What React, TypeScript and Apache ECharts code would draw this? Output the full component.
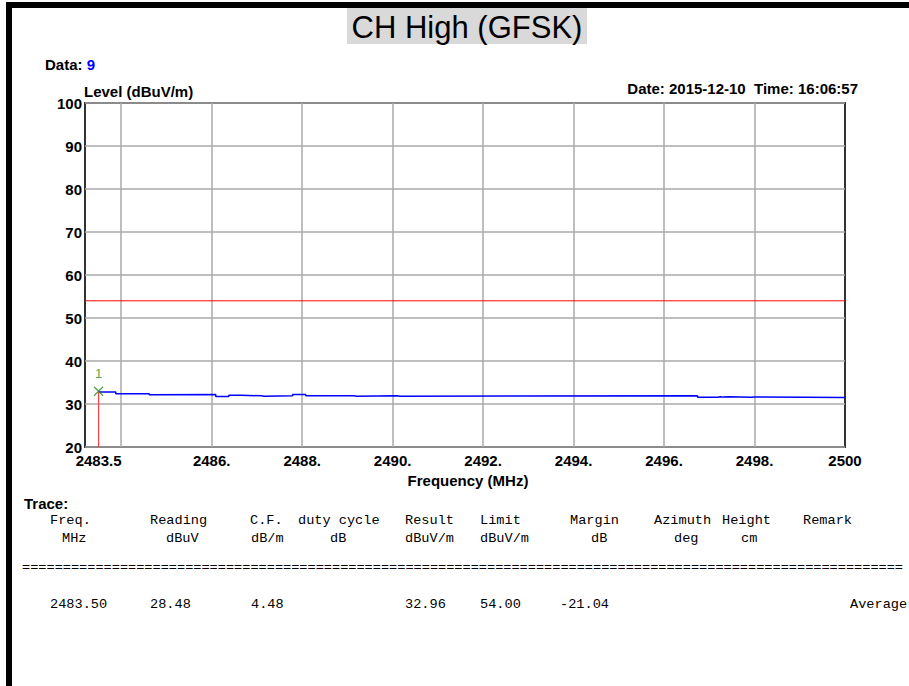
import React, { useEffect, useRef } from 'react';
import * as echarts from 'echarts';

// ---- data ----
const xMin = 2483.2;
const xMax = 2500;
const xLabelValues = [2483.5, 2486, 2488, 2490, 2492, 2494, 2496, 2498, 2500];
const xLabelTexts = ['2483.5', '2486.', '2488.', '2490.', '2492.', '2494.', '2496.', '2498.', '2500'];
const xGridValues = [2484, 2486, 2488, 2490, 2492, 2494, 2496, 2498];
const yMin = 20;
const yMax = 100;
const yStep = 10;

const traceFreq = [2483.5, 2483.88, 2484.62, 2484.68, 2486.09, 2486.38, 2486.64, 2487.1, 2487.16, 2487.79, 2488.08, 2489.15, 2489.2, 2490.1, 2490.16, 2496.74, 2497.18, 2497.25, 2497.3, 2497.43, 2497.94, 2497.98, 2500];
const traceLevel = [32.8, 32.4, 32.15, 32.2, 31.75, 32.05, 31.9, 31.8, 31.9, 32.2, 31.9, 31.8, 31.9, 31.8, 31.9, 31.55, 31.7, 31.6, 31.7, 31.55, 31.65, 31.5, 31.5];

const limitLevel = 54;
const markerFreq = 2483.5;
const markerLevel = 32.96;
const markerName = '1';

const titleText = 'CH High (GFSK)';
const dataCount = '9';
const dateText = 'Date: 2015-12-10  Time: 16:06:57';
const yAxisTitle = 'Level (dBuV/m)';
const xAxisTitle = 'Frequency (MHz)';

const traceHeaders = ['Freq.', 'Reading', 'C.F.', 'duty cycle', 'Result', 'Limit', 'Margin', 'Azimuth', 'Height', 'Remark'];
const traceUnits = ['MHz', 'dBuV', 'dB/m', 'dB', 'dBuV/m', 'dBuV/m', 'dB', 'deg', 'cm', ''];
const traceRow = ['2483.50', '28.48', '4.48', '', '32.96', '54.00', '-21.04', '', '', 'Average'];

// ---- layout ----
const headerX = [50, 150, 250, 298, 405, 480, 570, 654, 722, 803];
const unitX = [62, 166, 251, 330, 405, 480, 591, 674, 741, 0];
const rowX = [50, 150, 251, 0, 405, 480, 560, 0, 0, 850];

const SANS = '"Liberation Sans", Arial, sans-serif';
const MONO = '"Liberation Mono", "DejaVu Sans Mono", monospace';

export default function App() {
  const ref = useRef<HTMLDivElement>(null);
  useEffect(() => {
    if (!ref.current) return;
    const chart = echarts.init(ref.current, undefined, { renderer: 'svg' });
    const graphics: any[] = [];
    graphics.push({ type: 'rect', shape: { x: 6, y: 2, width: 903, height: 6 }, style: { fill: '#000' }, z: 100 });
    graphics.push({ type: 'rect', shape: { x: 6, y: 2, width: 6, height: 684 }, style: { fill: '#000' }, z: 100 });
    graphics.push({ type: 'rect', shape: { x: 347, y: 8, width: 240, height: 36 }, style: { fill: '#d9d9d9' } });
    graphics.push({ type: 'text', x: 467, y: 27, style: { text: titleText, font: `31px ${SANS}`, fill: '#000', align: 'center', verticalAlign: 'middle' } });
    graphics.push({
      type: 'text', x: 45, y: 64,
      style: {
        text: '{a|Data: }{b|' + dataCount + '}', verticalAlign: 'middle',
        rich: {
          a: { fontFamily: SANS, fontSize: 15, fontWeight: 'bold', fill: '#000', color: '#000' },
          b: { fontFamily: SANS, fontSize: 15, fontWeight: 'bold', fill: '#0000ff', color: '#0000ff' },
        },
      },
    });
    graphics.push({ type: 'text', x: 84, y: 91, style: { text: yAxisTitle, font: `bold 15px ${SANS}`, fill: '#000', verticalAlign: 'middle' } });
    graphics.push({ type: 'text', x: 858, y: 88, style: { text: dateText, font: `bold 15px ${SANS}`, fill: '#000', align: 'right', verticalAlign: 'middle' } });
    graphics.push({ type: 'text', x: 468, y: 480, style: { text: xAxisTitle, font: `bold 15px ${SANS}`, fill: '#000', align: 'center', verticalAlign: 'middle' } });
    graphics.push({ type: 'text', x: 24, y: 503, style: { text: 'Trace:', font: `bold 15px ${SANS}`, fill: '#000', verticalAlign: 'middle' } });
    traceHeaders.forEach((t, i) => {
      if (t) graphics.push({ type: 'text', x: headerX[i], y: 520, style: { text: t, font: `13.6px ${MONO}`, fill: '#000', verticalAlign: 'middle' } });
    });
    traceUnits.forEach((t, i) => {
      if (t) graphics.push({ type: 'text', x: unitX[i], y: 538, style: { text: t, font: `13.6px ${MONO}`, fill: '#000', verticalAlign: 'middle' } });
    });
    graphics.push({ type: 'text', x: 22, y: 567, style: { text: '='.repeat(108), font: `13.6px ${MONO}`, fill: '#000', verticalAlign: 'middle' } });
    traceRow.forEach((t, i) => {
      if (t) graphics.push({ type: 'text', x: rowX[i], y: 604, style: { text: t, font: `13.6px ${MONO}`, fill: '#000', verticalAlign: 'middle' } });
    });

    const labelMap: Record<string, string> = {};
    xLabelValues.forEach((v, i) => { labelMap[String(v)] = xLabelTexts[i]; });

    chart.setOption({
      animation: false,
      backgroundColor: '#fff',
      grid: { left: 85, right: 64, top: 103, bottom: 239, show: true, borderColor: '#333', borderWidth: 2, backgroundColor: '#fff' },
      xAxis: {
        type: 'value', min: xMin, max: xMax,
        axisLine: { show: false },
        axisTick: { show: false, customValues: xGridValues },
        axisLabel: {
          customValues: xLabelValues,
          formatter: (v: number) => labelMap[String(v)] ?? String(v),
          fontFamily: SANS, fontSize: 15, fontWeight: 'bold', color: '#000', margin: 6,
        },
        splitLine: { show: true, lineStyle: { color: '#aaaaaa', width: 1.5 } },
      },
      yAxis: {
        type: 'value', min: yMin, max: yMax, interval: yStep,
        axisLine: { show: false },
        axisTick: { show: false },
        axisLabel: { fontFamily: SANS, fontSize: 15, fontWeight: 'bold', color: '#000', margin: 3 },
        splitLine: { show: true, lineStyle: { color: '#aaaaaa', width: 1.5 } },
      },
      series: [
        {
          type: 'line', step: 'end', showSymbol: false, silent: true,
          data: traceFreq.map((f, i) => [f, traceLevel[i]]),
          lineStyle: { color: '#0000ff', width: 1.5 }, z: 3,
        },
        {
          type: 'line', showSymbol: false, silent: true,
          data: [[xMin, limitLevel], [xMax, limitLevel]],
          lineStyle: { color: '#ff0000', width: 1 }, z: 2,
        },
        {
          type: 'line', showSymbol: false, silent: true,
          data: [[markerFreq, yMin], [markerFreq, markerLevel]],
          lineStyle: { color: '#ff4040', width: 1.2 }, z: 4,
        },
        {
          type: 'scatter', silent: true,
          data: [[markerFreq, markerLevel]],
          symbol: 'path://M0,0L10,10M10,0L0,10',
          symbolSize: 9,
          itemStyle: { color: 'rgba(0,0,0,0)', borderColor: '#1f8f1f', borderWidth: 1.3 },
          label: { show: true, formatter: markerName, position: 'top', distance: 6, color: '#1f8f1f', fontSize: 13, fontFamily: SANS },
          z: 5,
        },
      ],
      graphic: graphics,
    });
    return () => chart.dispose();
  }, []);
  return <div ref={ref} style={{ position: 'fixed', left: 0, top: 0, width: 909, height: 686, background: '#fff' }} />;
}
